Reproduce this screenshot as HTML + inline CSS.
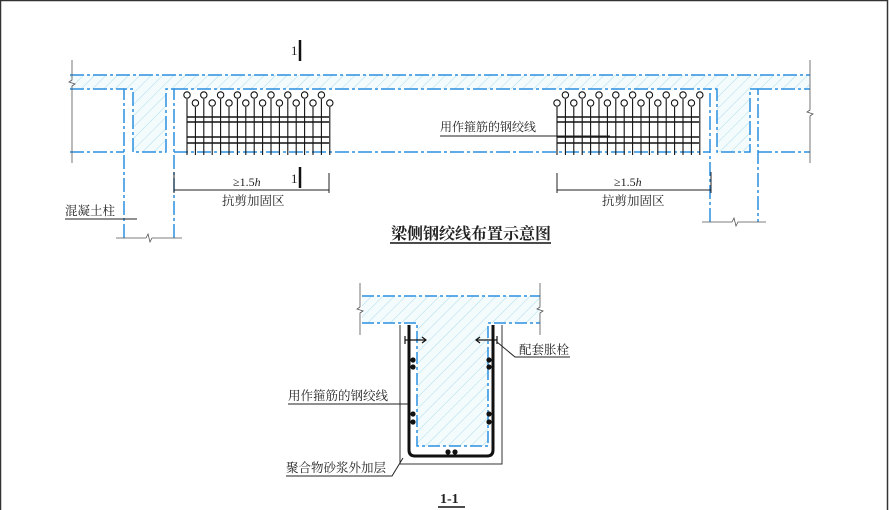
<!DOCTYPE html>
<html><head><meta charset="utf-8"><style>
html,body{margin:0;padding:0;background:#fff}
svg{display:block}
text{font-family:"Liberation Serif","Noto Serif CJK SC","Noto Sans CJK SC",serif;fill:#222}
</style></head><body>
<svg width="889" height="510" viewBox="0 0 889 510" xmlns="http://www.w3.org/2000/svg">
<defs>
<pattern id="h" width="8" height="8" patternUnits="userSpaceOnUse" patternTransform="rotate(45)">
<rect width="8" height="8" fill="#f3fbfd"/>
<line x1="0" y1="0" x2="0" y2="8" stroke="#9fd6e6" stroke-width="0.8"/>
</pattern>
</defs>
<rect x="0.5" y="0.5" width="887" height="520" fill="none" stroke="#333" stroke-width="1.5"/>

<!-- top beam -->
<rect x="70" y="75" width="740" height="14" fill="url(#h)"/>
<rect x="133" y="89" width="33" height="63" fill="url(#h)"/>
<rect x="717" y="89" width="33" height="63" fill="url(#h)"/>
<g stroke="#2a8fe0" stroke-width="1.5" stroke-dasharray="14,3,3,3" fill="none">
<line x1="70" y1="75" x2="810" y2="75"/>
<line x1="70" y1="89" x2="124" y2="89"/>
<line x1="174" y1="89" x2="710" y2="89"/>
<line x1="758" y1="89" x2="810" y2="89"/>
<line x1="70" y1="152" x2="124" y2="152"/>
<line x1="174" y1="152" x2="710" y2="152"/>
<line x1="758" y1="152" x2="810" y2="152"/>
<polyline points="124,238 124,89 133,89 133,152 166,152 166,89 174,89 174,238"/>
<polyline points="710,222 710,89 717,89 717,152 750,152 750,89 758,89 758,222"/>
</g>
<g stroke="#555" stroke-width="0.8" fill="none">
<polyline points="72,60 72,80 69,82 75,84 72,86 72,163"/>
<polyline points="810,60 810,110 807,112 813,114 810,116 810,163"/>
<polyline points="116,238 146,238 148,234 150,242 152,238 182,238"/>
<polyline points="702,222 732,222 734,218 736,226 738,222 766,222"/>
</g>

<!-- strands left -->
<g id="sL" stroke="#111" fill="none">
<g stroke-width="1.5">
<line x1="187" y1="117" x2="329" y2="117"/><line x1="187" y1="122" x2="329" y2="122"/>
<line x1="187" y1="137" x2="329" y2="137"/><line x1="187" y1="143" x2="329" y2="143"/>
</g>
</g>
<g stroke="#111" stroke-width="1.1" fill="#fff">
<!-- generated verticals -->
<line x1="187" y1="99" x2="187" y2="155"/><circle cx="187" cy="95" r="3.2"/>
<line x1="195.4" y1="107" x2="195.4" y2="155"/><circle cx="195.4" cy="103" r="3.2"/>
<line x1="203.8" y1="99" x2="203.8" y2="155"/><circle cx="203.8" cy="95" r="3.2"/>
<line x1="212.2" y1="107" x2="212.2" y2="155"/><circle cx="212.2" cy="103" r="3.2"/>
<line x1="220.6" y1="99" x2="220.6" y2="155"/><circle cx="220.6" cy="95" r="3.2"/>
<line x1="229" y1="107" x2="229" y2="155"/><circle cx="229" cy="103" r="3.2"/>
<line x1="237.4" y1="99" x2="237.4" y2="155"/><circle cx="237.4" cy="95" r="3.2"/>
<line x1="245.8" y1="107" x2="245.8" y2="155"/><circle cx="245.8" cy="103" r="3.2"/>
<line x1="254.2" y1="99" x2="254.2" y2="155"/><circle cx="254.2" cy="95" r="3.2"/>
<line x1="262.6" y1="107" x2="262.6" y2="155"/><circle cx="262.6" cy="103" r="3.2"/>
<line x1="271" y1="99" x2="271" y2="155"/><circle cx="271" cy="95" r="3.2"/>
<line x1="279.4" y1="107" x2="279.4" y2="155"/><circle cx="279.4" cy="103" r="3.2"/>
<line x1="287.8" y1="99" x2="287.8" y2="155"/><circle cx="287.8" cy="95" r="3.2"/>
<line x1="296.2" y1="107" x2="296.2" y2="155"/><circle cx="296.2" cy="103" r="3.2"/>
<line x1="304.6" y1="99" x2="304.6" y2="155"/><circle cx="304.6" cy="95" r="3.2"/>
<line x1="313" y1="107" x2="313" y2="155"/><circle cx="313" cy="103" r="3.2"/>
<line x1="321.4" y1="99" x2="321.4" y2="155"/><circle cx="321.4" cy="95" r="3.2"/>
<line x1="329.8" y1="107" x2="329.8" y2="155"/><circle cx="329.8" cy="103" r="3.2"/>
</g>
<!-- strands right -->
<g stroke="#111" stroke-width="1.5">
<line x1="557" y1="117" x2="699" y2="117"/><line x1="557" y1="122" x2="699" y2="122"/>
<line x1="557" y1="137" x2="699" y2="137"/><line x1="557" y1="143" x2="699" y2="143"/>
</g>
<g stroke="#111" stroke-width="1.1" fill="#fff">
<line x1="557" y1="107" x2="557" y2="155"/><circle cx="557" cy="103" r="3.2"/>
<line x1="565.4" y1="99" x2="565.4" y2="155"/><circle cx="565.4" cy="95" r="3.2"/>
<line x1="573.8" y1="107" x2="573.8" y2="155"/><circle cx="573.8" cy="103" r="3.2"/>
<line x1="582.2" y1="99" x2="582.2" y2="155"/><circle cx="582.2" cy="95" r="3.2"/>
<line x1="590.6" y1="107" x2="590.6" y2="155"/><circle cx="590.6" cy="103" r="3.2"/>
<line x1="599" y1="99" x2="599" y2="155"/><circle cx="599" cy="95" r="3.2"/>
<line x1="607.4" y1="107" x2="607.4" y2="155"/><circle cx="607.4" cy="103" r="3.2"/>
<line x1="615.8" y1="99" x2="615.8" y2="155"/><circle cx="615.8" cy="95" r="3.2"/>
<line x1="624.2" y1="107" x2="624.2" y2="155"/><circle cx="624.2" cy="103" r="3.2"/>
<line x1="632.6" y1="99" x2="632.6" y2="155"/><circle cx="632.6" cy="95" r="3.2"/>
<line x1="641" y1="107" x2="641" y2="155"/><circle cx="641" cy="103" r="3.2"/>
<line x1="649.4" y1="99" x2="649.4" y2="155"/><circle cx="649.4" cy="95" r="3.2"/>
<line x1="657.8" y1="107" x2="657.8" y2="155"/><circle cx="657.8" cy="103" r="3.2"/>
<line x1="666.2" y1="99" x2="666.2" y2="155"/><circle cx="666.2" cy="95" r="3.2"/>
<line x1="674.6" y1="107" x2="674.6" y2="155"/><circle cx="674.6" cy="103" r="3.2"/>
<line x1="683" y1="99" x2="683" y2="155"/><circle cx="683" cy="95" r="3.2"/>
<line x1="691.4" y1="107" x2="691.4" y2="155"/><circle cx="691.4" cy="103" r="3.2"/>
<line x1="699.8" y1="99" x2="699.8" y2="155"/><circle cx="699.8" cy="95" r="3.2"/>
</g>

<!-- section marks -->
<line x1="300" y1="40" x2="300" y2="61" stroke="#111" stroke-width="2.5"/>
<text x="291" y="55" font-size="13" font-family="Liberation Sans">1</text>
<line x1="300" y1="167" x2="300" y2="188" stroke="#111" stroke-width="2.5"/>
<text x="291" y="183" font-size="13" font-family="Liberation Sans">1</text>

<!-- dimensions -->
<g stroke="#222" stroke-width="1">
<line x1="174" y1="190" x2="329" y2="190"/><line x1="174" y1="172" x2="174" y2="193"/><line x1="329" y1="173" x2="329" y2="193"/>
<line x1="557" y1="190" x2="711" y2="190"/><line x1="557" y1="173" x2="557" y2="193"/><line x1="711" y1="172" x2="711" y2="193"/>
</g>
<text x="233" y="186" font-size="12">≥1.5<tspan font-style="italic">h</tspan></text>
<text x="222" y="205" font-size="12.5">抗剪加固区</text>
<text x="614" y="186" font-size="12">≥1.5<tspan font-style="italic">h</tspan></text>
<text x="602" y="205" font-size="12.5">抗剪加固区</text>

<text x="440" y="131" font-size="12">用作箍筋的钢绞线</text>
<line x1="440" y1="136" x2="610" y2="136" stroke="#222" stroke-width="1"/>
<text x="65" y="215" font-size="12.5">混凝土柱</text>
<line x1="65" y1="219" x2="137" y2="219" stroke="#222" stroke-width="1"/>

<text x="391" y="239" font-size="16" font-weight="bold" font-family="Liberation Sans,Noto Sans CJK SC,sans-serif">梁侧钢绞线布置示意图</text>
<line x1="390" y1="243" x2="551" y2="243" stroke="#111" stroke-width="1.6"/>

<!-- section 1-1 -->
<rect x="362" y="296" width="178" height="27" fill="url(#h)"/>
<rect x="417" y="323" width="71" height="123" fill="url(#h)"/>
<g stroke="#2a8fe0" stroke-width="1.5" stroke-dasharray="12,3,3,3" fill="none">
<line x1="362" y1="296" x2="540" y2="296"/>
<polyline points="362,323 417,323 417,446 488,446 488,323 540,323"/>
</g>
<g stroke="#555" stroke-width="0.8" fill="none">
<polyline points="360,283 360,307 357,309 363,311 360,313 360,335"/>
<polyline points="540,283 540,307 537,309 543,311 540,313 540,335"/>
</g>
<polyline points="400,325 400,464 502,464 502,325" fill="none" stroke="#333" stroke-width="1"/>
<path d="M409,325 V450 Q409,456 415,456 H487 Q493,456 493,450 V325" fill="none" stroke="#111" stroke-width="3"/>
<g fill="#111">
<circle cx="413" cy="360" r="2.6"/><circle cx="413" cy="367" r="2.6"/>
<circle cx="413" cy="414" r="2.6"/><circle cx="413" cy="422" r="2.6"/>
<circle cx="489" cy="360" r="2.6"/><circle cx="489" cy="367" r="2.6"/>
<circle cx="489" cy="414" r="2.6"/><circle cx="489" cy="422" r="2.6"/>
<circle cx="448" cy="452" r="2.6"/><circle cx="455" cy="452" r="2.6"/>
</g>
<g stroke="#111" stroke-width="1.2" fill="none">
<line x1="405" y1="340" x2="425" y2="340"/><line x1="405" y1="336" x2="405" y2="344"/><path d="M422,337 L426,340 L422,343"/>
<line x1="477" y1="340" x2="497" y2="340"/><line x1="497" y1="336" x2="497" y2="344"/><path d="M480,337 L476,340 L480,343"/>
</g>
<g stroke="#222" stroke-width="1" fill="none">
<polyline points="497,342 515,357 570,357"/>
<polyline points="288,404 408,404"/>
<polyline points="286,476 392,476 403,458"/>
</g>
<text x="519" y="354" font-size="12.5">配套胀栓</text>
<text x="288" y="400" font-size="12.5">用作箍筋的钢绞线</text>
<text x="286" y="472" font-size="12.5">聚合物砂浆外加层</text>
<text x="440" y="503" font-size="14" font-weight="bold" font-family="Liberation Sans,sans-serif">1-1</text>
<line x1="438" y1="507" x2="465" y2="507" stroke="#111" stroke-width="1.5"/>
</svg>
</body></html>
